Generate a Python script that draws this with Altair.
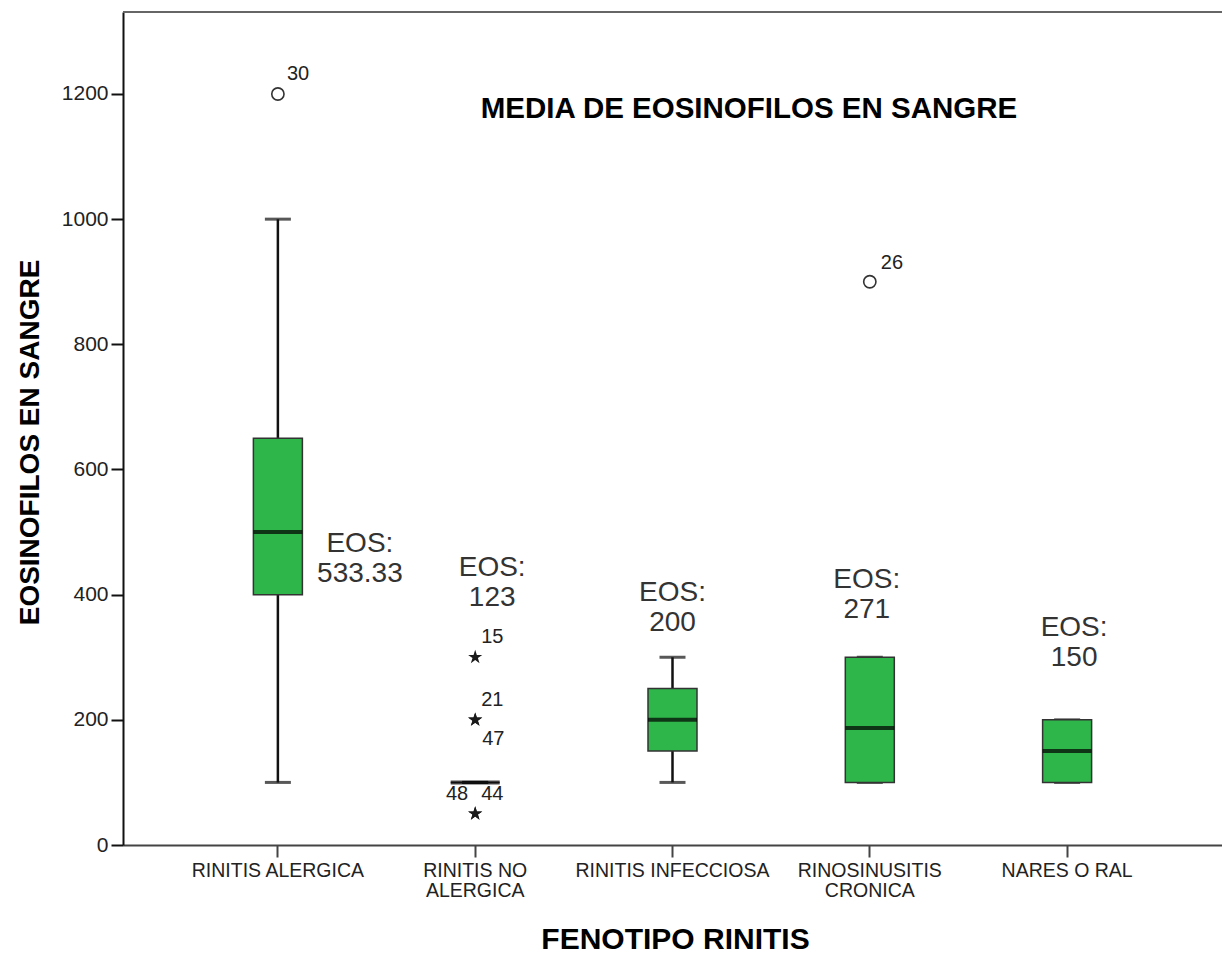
import altair as alt
import pandas as pd

# ---------------- data ----------------
categories = ["RINITIS ALERGICA", "RINITIS NO ALERGICA", "RINITIS INFECCIOSA",
              "RINOSINUSITIS CRONICA", "NARES O RAL"]
tick_label_lines = [["RINITIS ALERGICA"], ["RINITIS NO", "ALERGICA"], ["RINITIS INFECCIOSA"],
                    ["RINOSINUSITIS", "CRONICA"], ["NARES O RAL"]]
q1 = [400, 100, 150, 100, 100]
median = [500, 100, 200, 187, 150]
q3 = [650, 100, 250, 300, 200]
whisker_low = [100, 100, 100, 100, 100]
whisker_high = [1000, 100, 300, 300, 200]

mean_eos = ["533.33", "123", "200", "271", "150"]
mean_label_y = [468, 430, 390, 411, 334]
mean_label_dx = [82, 17, 0, -3, 7]

outlier_cat = ["RINITIS ALERGICA", "RINITIS NO ALERGICA", "RINITIS NO ALERGICA",
               "RINITIS NO ALERGICA", "RINITIS NO ALERGICA", "RINITIS NO ALERGICA",
               "RINOSINUSITIS CRONICA"]
outlier_val = [1200, 300, 200, 200, 50, 50, 900]
outlier_id = ["30", "15", "21", "47", "48", "44", "26"]
outlier_kind = ["mild", "extreme", "extreme", "extreme", "extreme", "extreme", "mild"]
id_dx = [9, 6, 6, 7, -7, 6, 11]
id_dy = [-20, -20, -20, 19, -20, -20, -19]
id_align = ["left", "left", "left", "left", "right", "left", "left"]

y_ticks = [0, 200, 400, 600, 800, 1000, 1200]
chart_title = "MEDIA DE EOSINOFILOS EN SANGRE"

# ---------------- tables ----------------
box_df = pd.DataFrame({"cat": categories, "q1": q1, "median": median, "q3": q3,
                       "lo": whisker_low, "hi": whisker_high})
out_df = pd.DataFrame({"cat": outlier_cat, "val": outlier_val, "id": outlier_id,
                       "kind": outlier_kind})
mean_df = pd.DataFrame({"cat": categories, "txt": ["EOS:\n" + m for m in mean_eos],
                        "y": mean_label_y})
one_row = pd.DataFrame({"t": [chart_title]})

FONT = "Liberation Sans"
GREEN = "#2fb64b"
STAR = ("M0,-1L0.2245,-0.309L0.951,-0.309L0.363,0.118L0.588,0.809L0,0.382"
        "L-0.588,0.809L-0.363,0.118L-0.951,-0.309L-0.2245,-0.309Z")

label_expr = ""
for c, lines in zip(categories, tick_label_lines):
    if len(lines) > 1:
        arr = "[" + ",".join("'" + l + "'" for l in lines) + "]"
        label_expr += f"datum.label == '{c}' ? {arr} : "
label_expr += "datum.label"

xscale = alt.Scale(domain=categories, paddingInner=0, paddingOuter=0.285)
yscale = alt.Scale(domain=[0, 1331], nice=False, zero=True)

x_enc = alt.X("cat:N", scale=xscale, sort=categories,
              axis=alt.Axis(title="FENOTIPO RINITIS", labelAngle=0, labelExpr=label_expr,
                            labelFont=FONT, labelFontSize=19.5, labelLineHeight=20,
                            labelColor="#222", labelPadding=4, labelLimit=0,
                            tickSize=12, tickWidth=2, tickColor="#444",
                            domainColor="#444", domainWidth=2,
                            titleFont=FONT, titleFontSize=30, titleFontWeight="bold",
                            titleColor="#000", titleX=552, titleY=103,
                            titleBaseline="alphabetic", titleAlign="center"))
y_axis = alt.Axis(title="EOSINOFILOS EN SANGRE", values=y_ticks, grid=False, format="d",
                  labelFont=FONT, labelFontSize=21, labelColor="#222", labelPadding=3,
                  tickSize=12, tickWidth=2, tickColor="#111",
                  domainColor="#111", domainWidth=2,
                  titleFont=FONT, titleFontSize=28, titleFontWeight="bold", titleColor="#000",
                  titleAngle=270, titleX=-85, titleY=430,
                  titleBaseline="alphabetic", titleAlign="center")

base = alt.Chart(box_df)
X = alt.X("cat:N", scale=xscale, sort=categories)

whisker = base.mark_rule(color="#111", strokeWidth=2.5).encode(
    x=x_enc, y=alt.Y("lo:Q", scale=yscale, axis=y_axis), y2="hi:Q")
cap_lo = base.mark_tick(color="#111", size=26, thickness=3).encode(
    x=X, y=alt.Y("lo:Q", scale=yscale))
cap_hi = base.mark_tick(color="#111", size=26, thickness=3).encode(
    x=X, y=alt.Y("hi:Q", scale=yscale))
box = base.mark_bar(size=49, color=GREEN, stroke="#333", strokeWidth=1.5).encode(
    x=X, y=alt.Y("q1:Q", scale=yscale), y2="q3:Q")
med = base.mark_tick(color="#000", size=49, thickness=4).encode(
    x=X, y=alt.Y("median:Q", scale=yscale))

out_base = alt.Chart(out_df)
mild = out_base.transform_filter("datum.kind == 'mild'").mark_point(
    shape="circle", filled=False, size=150, stroke="#333", strokeWidth=1.6, opacity=1).encode(
    x=X, y=alt.Y("val:Q", scale=yscale))
extreme = out_base.transform_filter("datum.kind == 'extreme'").mark_point(
    shape=STAR, filled=True, size=220, color="#1a1a1a", opacity=1).encode(
    x=X, y=alt.Y("val:Q", scale=yscale))

layers = [whisker, cap_lo, cap_hi, box, med, mild, extreme]

for i in range(len(outlier_id)):
    layers.append(
        alt.Chart(out_df.iloc[[i]]).mark_text(
            font=FONT, fontSize=20, color="#222", dx=id_dx[i], dy=id_dy[i],
            align=id_align[i], baseline="middle").encode(
            x=X, y=alt.Y("val:Q", scale=yscale), text="id:N"))

for i in range(len(categories)):
    layers.append(
        alt.Chart(mean_df.iloc[[i]]).mark_text(
            font=FONT, fontSize=28, color="#333", dx=mean_label_dx[i], align="center",
            baseline="alphabetic", lineBreak="\n", lineHeight=30).encode(
            x=X, y=alt.Y("y:Q", scale=yscale), text="txt:N"))

title = alt.Chart(one_row).mark_text(
    font=FONT, fontSize=29.5, fontWeight="bold", color="#000", align="center",
    baseline="alphabetic").encode(
    x=alt.value(626), y=alt.value(106), text="t:N")
top_border = alt.Chart(one_row).mark_rule(color="#666", strokeWidth=2).encode(
    x=alt.value(0), x2=alt.value(1099), y=alt.value(0))
layers += [title, top_border]

chart = alt.layer(*layers).properties(
    width=1099, height=833,
    autosize=alt.AutoSizeParams(type="none"),
    padding={"left": 123, "top": 12, "right": 0, "bottom": 109},
    background="white",
).configure_view(strokeWidth=0)

chart.save("out.html", embed_options={"renderer": "svg", "actions": False})
